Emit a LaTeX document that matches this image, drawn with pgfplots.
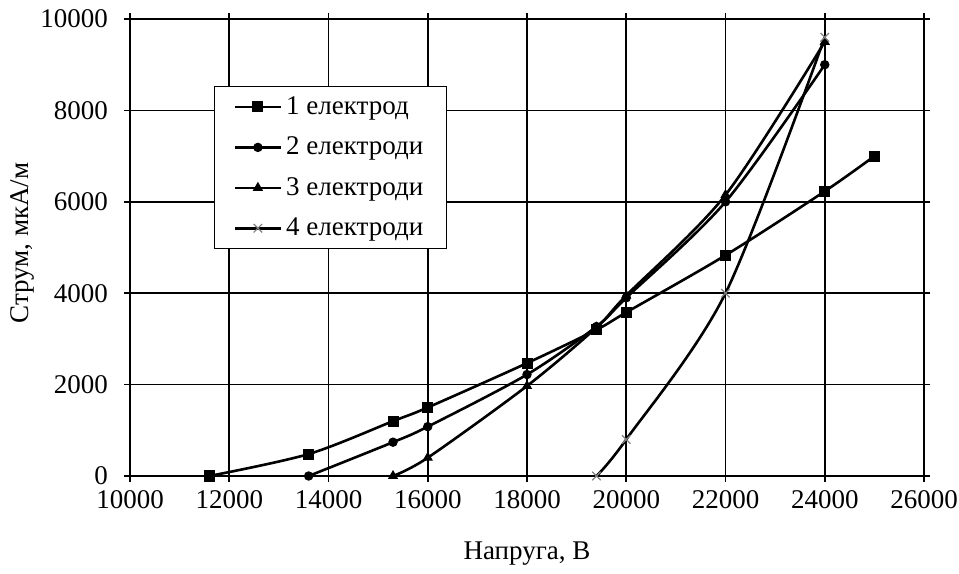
\documentclass[border=0pt]{standalone}
\usepackage{fontspec}
\setmainfont{Liberation Serif}
\usepackage{pgfplots}
\pgfplotsset{compat=1.18}
\newcommand{\fs}{\fontsize{13.5bp}{16bp}\selectfont}
\begin{document}
\begin{tikzpicture}
\useasboundingbox (0,0) rectangle (479.5bp,287bp);
\begin{axis}[
  at={(65bp,49bp)}, anchor=south west,
  scale only axis, width=397bp, height=228.5bp,
  xmin=10000, xmax=26000, ymin=0, ymax=10000,
  xtick={10000,12000,...,26000}, ytick={0,2000,...,10000},
  scaled ticks=false,
  /pgf/number format/assume math mode=true,
  /pgf/number format/set thousands separator={},
  tick label style={font=\fs},
  tick align=outside, major tick length=3bp,
  tick style={black, line width=0.8bp},
  xticklabel style={yshift=-1bp},
  yticklabel style={xshift=-4.5bp},
  axis line style={line width=0.9bp},
  grid=major, grid style={black, line width=0.8bp},
  xlabel={Напруга, В}, ylabel={Струм, мкА/м},
  label style={font=\fs},
  xlabel style={at={(axis description cs:0.5,-0.17)}, anchor=center},
  ylabel style={at={(axis description cs:-0.136,0.51)}, anchor=center},
  legend style={at={(axis description cs:0.1058,0.8534)}, anchor=north west,
    draw=black, line width=0.6bp, font=\fs, inner xsep=9.5bp, inner ysep=3bp,
    row sep=5.8bp, legend cell align=left},
  legend image code/.code={\draw[line width=1.3bp, mark repeat=2,mark phase=2] plot coordinates {(0bp,0bp)(11.5bp,0bp)(23bp,0bp)};},
  every axis plot/.append style={black, line width=1.3bp, smooth},
]
\addplot[mark=square*, mark size=2.5bp, mark options={solid, line width=0.5bp}] coordinates {
 (11600,0) (13600,480) (15300,1200) (16000,1500) (18000,2470) (19400,3200) (20000,3580) (22000,4830) (24000,6230) (25000,7000)};
\addlegendentry{1 електрод}
\addplot[mark=*, mark size=2.1bp, mark options={solid, line width=0.5bp}] coordinates {
 (13600,0) (15300,740) (16000,1080) (18000,2220) (19400,3270) (20000,3900) (22000,6000) (24000,9000)};
\addlegendentry{2 електроди}
\addplot[mark=triangle*, mark size=2.5bp, mark options={solid, line width=0.5bp}] coordinates {
 (15300,0) (16000,400) (18000,1970) (19400,3250) (20000,3950) (22000,6150) (24000,9500)};
\addlegendentry{3 електроди}
\addplot[mark=x, mark size=3bp, mark options={solid, line width=0.6bp, gray}] coordinates {
 (19400,0) (20000,800) (22000,4000) (24000,9600)};
\addlegendentry{4 електроди}
\end{axis}
\end{tikzpicture}
\end{document}
